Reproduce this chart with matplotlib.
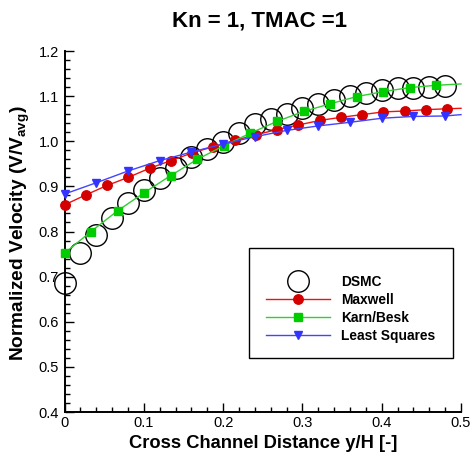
import matplotlib
matplotlib.use("Agg")
import matplotlib.pyplot as plt
from matplotlib.patches import Rectangle
from matplotlib.ticker import MultipleLocator, FixedLocator

plt.rcParams['font.family'] = ['Liberation Sans', 'DejaVu Sans']
plt.rcParams['mathtext.fontset'] = 'custom'
plt.rcParams['mathtext.rm'] = 'Liberation Sans'
plt.rcParams['mathtext.bf'] = 'Liberation Sans:bold'

# ---- data ----
dsmc_x = [0.00, 0.02, 0.04, 0.06, 0.08, 0.10, 0.12, 0.14, 0.16, 0.18, 0.20, 0.22,
          0.24, 0.26, 0.28, 0.30, 0.32, 0.34, 0.36, 0.38, 0.40, 0.42, 0.44, 0.46, 0.48]
dsmc_y = [0.685, 0.752, 0.792, 0.831, 0.864, 0.892, 0.918, 0.940, 0.965, 0.983, 0.999, 1.019,
          1.038, 1.050, 1.061, 1.073, 1.083, 1.091, 1.101, 1.108, 1.114, 1.117, 1.119, 1.121, 1.123]

maxwell_x = [0.0, 0.0268, 0.0536, 0.0804, 0.1072, 0.134, 0.1608, 0.1876, 0.2144, 0.2412,
             0.268, 0.2948, 0.3216, 0.3484, 0.3752, 0.402, 0.4288, 0.4556, 0.4824, 0.5]
maxwell_y = [0.859, 0.881, 0.902, 0.920, 0.940, 0.957, 0.974, 0.988, 1.002, 1.014,
             1.026, 1.036, 1.046, 1.053, 1.059, 1.065, 1.067, 1.070, 1.072, 1.073]

karn_x = [0.0, 0.0335, 0.067, 0.1005, 0.134, 0.1675, 0.201, 0.2345, 0.268, 0.3015,
          0.335, 0.3685, 0.402, 0.4355, 0.469, 0.5]
karn_y = [0.752, 0.800, 0.846, 0.886, 0.924, 0.960, 0.990, 1.018, 1.044, 1.066,
          1.083, 1.099, 1.110, 1.119, 1.124, 1.127]

ls_x = [0.0, 0.04, 0.08, 0.12, 0.16, 0.20, 0.24, 0.28, 0.32, 0.36, 0.40, 0.44, 0.48, 0.5]
ls_y = [0.883, 0.908, 0.934, 0.957, 0.976, 0.994, 1.010, 1.024, 1.034, 1.042, 1.051,
        1.055, 1.056, 1.059]

series_labels = ["DSMC", "Maxwell", "Karn/Besk", "Least Squares"]
x_ticks = [0.0, 0.1, 0.2, 0.3, 0.4, 0.5]
x_ticklabels = ["0", "0.1", "0.2", "0.3", "0.4", "0.5"]
y_ticks = [0.4, 0.5, 0.6, 0.7, 0.8, 0.9, 1.0, 1.1, 1.2]
y_ticklabels = ["0.4", "0.5", "0.6", "0.7", "0.8", "0.9", "1.0", "1.1", "1.2"]

title = "Kn = 1, TMAC =1"
xlabel = "Cross Channel Distance y/H [-]"
ylabel = r"Normalized Velocity (V/V$_{\mathbf{avg}}$)"

W, H = 474, 457
fig = plt.figure(figsize=(W / 100, H / 100), dpi=100)
ax = fig.add_axes([64.5 / W, 1 - 412 / H, (461 - 64.5) / W, (412 - 51) / H])

h_dsmc, = ax.plot(dsmc_x, dsmc_y, linestyle='none', marker='o', ms=15.5, mfc='none',
                  mec='black', mew=1.0, clip_on=False, zorder=3, label=series_labels[0])
h_max, = ax.plot(maxwell_x, maxwell_y, color='#ee1111', lw=1.0, marker='o', ms=6.8,
                 mfc='#d40000', mec='#d40000', markevery=list(range(len(maxwell_x) - 1)),
                 clip_on=False, zorder=4, label=series_labels[1])
h_karn, = ax.plot(karn_x, karn_y, color='#33cc33', lw=1.0, marker='s', ms=6.0,
                  mfc='#00cc00', mec='#00cc00', markevery=list(range(len(karn_x) - 1)),
                  clip_on=False, zorder=5, label=series_labels[2])
h_ls, = ax.plot(ls_x, ls_y, color='#4444ff', lw=1.0, marker='v', ms=6.0,
                mfc='#3333ff', mec='#3333ff', markevery=list(range(len(ls_x) - 1)),
                clip_on=False, zorder=6, label=series_labels[3])

ax.set_xlim(0, 0.5)
ax.set_ylim(0.4, 1.2)
ax.xaxis.set_major_locator(FixedLocator(x_ticks))
ax.set_xticklabels(x_ticklabels)
ax.yaxis.set_major_locator(FixedLocator(y_ticks))
ax.set_yticklabels(y_ticklabels)
ax.xaxis.set_minor_locator(MultipleLocator(0.02))
ax.yaxis.set_minor_locator(MultipleLocator(0.02))
ax.tick_params(which='both', direction='in', top=False, right=False, width=1.0, color='black')
ax.tick_params(which='major', length=6.5, labelsize=10.5, pad=3)
ax.tick_params(which='minor', length=3.5)
ax.tick_params(axis='y', which='major', pad=4)
for s in ['top', 'right']:
    ax.spines[s].set_visible(False)
for s in ['left', 'bottom']:
    ax.spines[s].set_linewidth(1.4)

fig.text(259 / W, 1 - 21 / H, title, ha='center', va='center', fontsize=16, fontweight='bold')
fig.text(263 / W, 1 - 444 / H, xlabel, ha='center', va='center', fontsize=13.2, fontweight='bold')
fig.text(20 / W, 1 - 233 / H, ylabel, ha='center', va='center', fontsize=13.8,
         fontweight='bold', rotation=90)

# legend frame
x0 = (249 - 64.5) / 396.5
x1 = (453 - 64.5) / 396.5
y1 = (412 - 248) / 361
y0 = (412 - 358) / 361
ax.add_patch(Rectangle((x0, y0), x1 - x0, y1 - y0, transform=ax.transAxes,
                       facecolor='white', edgecolor='black', lw=1.0, zorder=7, clip_on=False))
leg = ax.legend(handles=[h_dsmc, h_max, h_karn, h_ls], loc='upper left',
                bbox_to_anchor=((266 - 64.5) / 396.5, (412 - 274.5) / 361),
                frameon=False, borderpad=0, borderaxespad=0, handlelength=4.65,
                handletextpad=0.8, labelspacing=0.3, markerscale=1.0,
                prop={'weight': 'bold', 'size': 9.9})
leg.set_zorder(8)

fig.savefig("out.png", dpi=100)
